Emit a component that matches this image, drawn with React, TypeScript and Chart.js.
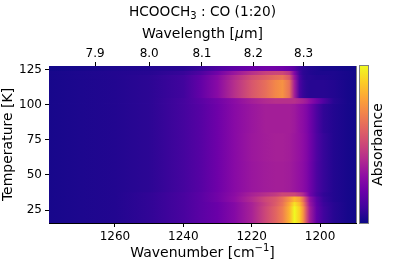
import React, { useEffect, useRef } from "react";
import { Chart, registerables } from "chart.js";

Chart.register(...registerables);

const wavenumbers = [1280, 1270, 1260, 1250, 1240, 1235, 1230, 1225, 1220, 1216, 1213, 1211, 1209, 1207.5, 1206, 1205, 1204, 1203, 1201, 1199, 1196, 1192, 1189];
const temperatureEdges = [15.5, 28, 31, 35, 38, 60, 80, 101, 105, 118, 121.5, 124.3, 127.5];
const absorbance = [
  [.02, .03, .04, .07, .12, .16, .2, .27, .37, .5, .6, .68, .83, 1.0, .9, .76, .54, .36, .18, .1, .05, .02, .01],
  [.02, .03, .04, .07, .12, .16, .2, .27, .37, .48, .57, .65, .8, .95, .85, .7, .5, .33, .17, .09, .05, .02, .01],
  [.02, .03, .04, .07, .12, .16, .22, .3, .4, .5, .56, .63, .74, .84, .78, .64, .46, .31, .16, .08, .04, .02, .01],
  [.02, .03, .04, .07, .12, .16, .22, .29, .37, .42, .46, .5, .5, .5, .45, .4, .32, .22, .12, .07, .04, .02, .01],
  [.02, .03, .04, .06, .11, .15, .21, .28, .33, .35, .36, .36, .35, .33, .31, .29, .26, .22, .13, .08, .04, .02, .01],
  [.02, .03, .04, .06, .11, .15, .21, .28, .335, .355, .365, .365, .355, .335, .315, .295, .265, .225, .135, .08, .04, .02, .01],
  [.02, .03, .04, .06, .11, .15, .21, .28, .33, .36, .36, .36, .36, .34, .31, .29, .26, .22, .13, .07, .04, .02, .01],
  [.02, .03, .04, .06, .11, .16, .22, .29, .36, .4, .42, .42, .42, .42, .39, .37, .34, .3, .22, .14, .05, .02, .01],
  [.02, .03, .04, .06, .1, .18, .28, .42, .55, .63, .71, .74, .64, .36, .13, .08, .06, .05, .05, .05, .04, .02, .01],
  [.02, .03, .04, .06, .1, .17, .27, .4, .52, .58, .63, .65, .56, .32, .12, .07, .05, .05, .04, .04, .03, .02, .01],
  [.02, .03, .04, .05, .08, .13, .22, .33, .42, .48, .5, .5, .44, .26, .1, .06, .05, .04, .03, .03, .03, .02, .01],
  [.01, .02, .03, .04, .05, .08, .13, .17, .2, .22, .22, .21, .19, .15, .09, .06, .05, .04, .03, .02, .02, .01, .01],
];
const yTicks = [25, 50, 75, 100, 125];
const xTicks = [1260, 1240, 1220, 1200];
const wavelengthTicks = [7.9, 8.0, 8.1, 8.2, 8.3];
const plasma = ["#0d0887", "#41049d", "#6a00a8", "#8f0da4", "#b12a90", "#cc4778", "#e16462", "#f2844b", "#fca636", "#fcce25", "#f0f921"];

const FONT = "'DejaVu Sans'";
const INK = "#000";
const GREY = "#808080";

function plasmaColor(v: number) {
  const t = Math.max(0, Math.min(1, v)) * (plasma.length - 1);
  const i = Math.min(plasma.length - 2, Math.floor(t));
  const f = t - i;
  const p = (s: string, k: number) => parseInt(s.slice(k, k + 2), 16);
  const mix = (k: number) => Math.round(p(plasma[i], k) * (1 - f) + p(plasma[i + 1], k) * f);
  return `rgb(${mix(1)},${mix(3)},${mix(5)})`;
}

type Run = { t: string; font?: string; dy?: number };

function drawRuns(ctx: CanvasRenderingContext2D, runs: Run[], cx: number, baseline: number) {
  const fontOf = (r: Run) => r.font ?? `14px ${FONT}`;
  let w = 0;
  runs.forEach((r) => { ctx.font = fontOf(r); w += ctx.measureText(r.t).width; });
  let x = cx - w / 2;
  ctx.textAlign = "left";
  ctx.textBaseline = "alphabetic";
  ctx.fillStyle = INK;
  runs.forEach((r) => {
    ctx.font = fontOf(r);
    ctx.fillText(r.t, x, baseline + (r.dy ?? 0));
    x += ctx.measureText(r.t).width;
  });
}

const SMALL = `10px ${FONT}`;
const TITLE_FONT = `13.7px ${FONT}`;
const titleRuns: Run[] = [{ t: "HCOOCH", font: TITLE_FONT }, { t: "3", font: SMALL, dy: 2.5 }, { t: " : CO (1:20)", font: TITLE_FONT }];
const topLabelRuns: Run[] = [{ t: "Wavelength [" }, { t: "μ", font: `italic 14px ${FONT}` }, { t: "m]" }];
const bottomLabelRuns: Run[] = [{ t: "Wavenumber [cm" }, { t: "−1", font: SMALL, dy: -6 }, { t: "]" }];

const heatmapPlugin = {
  id: "heatmap",
  beforeDatasetsDraw(chart: any) {
    const { ctx, chartArea: a, scales } = chart;
    const x0 = scales.x.getPixelForValue(wavenumbers[0]);
    const x1 = scales.x.getPixelForValue(wavenumbers[wavenumbers.length - 1]);
    ctx.save();
    ctx.beginPath();
    ctx.rect(a.left, a.top, a.right - a.left, a.bottom - a.top);
    ctx.clip();
    absorbance.forEach((row, r) => {
      const yb = scales.y.getPixelForValue(temperatureEdges[r]);
      const yt = scales.y.getPixelForValue(temperatureEdges[r + 1]);
      const g = ctx.createLinearGradient(x0, 0, x1, 0);
      row.forEach((v, c) => {
        const stop = (scales.x.getPixelForValue(wavenumbers[c]) - x0) / (x1 - x0);
        g.addColorStop(Math.max(0, Math.min(1, stop)), plasmaColor(v));
      });
      ctx.fillStyle = g;
      ctx.fillRect(a.left, yt, a.right - a.left, yb - yt + 0.5);
    });
    ctx.filter = "blur(0.7px)";
    ctx.drawImage(
      ctx.canvas,
      a.left, a.top, a.right - a.left, a.bottom - a.top,
      a.left, a.top, a.right - a.left, a.bottom - a.top
    );
    ctx.restore();
  },
  afterDraw(chart: any) {
    const { ctx, chartArea: a } = chart;
    ctx.save();
    ctx.strokeStyle = GREY;
    ctx.lineWidth = 1;
    ctx.beginPath();
    ctx.moveTo(a.right + 0.5, a.top);
    ctx.lineTo(a.right + 0.5, a.bottom);
    ctx.stroke();

    const cx0 = a.right + 4, cw = 8;
    const g = ctx.createLinearGradient(0, a.bottom, 0, a.top);
    plasma.forEach((c, i) => g.addColorStop(i / (plasma.length - 1), c));
    ctx.fillStyle = g;
    ctx.fillRect(cx0, a.top, cw, a.bottom - a.top);
    ctx.strokeStyle = GREY;
    ctx.strokeRect(cx0 - 0.5, a.top - 0.5, cw + 1, a.bottom - a.top + 1);

    const mid = (a.left + a.right) / 2;
    drawRuns(ctx, titleRuns, mid, 16);
    drawRuns(ctx, topLabelRuns, mid, 38);
    drawRuns(ctx, bottomLabelRuns, mid, 257);

    ctx.fillStyle = INK;
    ctx.font = `14px ${FONT}`;
    ctx.textAlign = "center";
    ctx.textBaseline = "middle";
    ctx.translate(378, (a.top + a.bottom) / 2);
    ctx.rotate(-Math.PI / 2);
    ctx.fillText("Absorbance", 0, 0);
    ctx.restore();
  },
};

export default function App() {
  const ref = useRef<HTMLCanvasElement>(null);
  useEffect(() => {
    const chart = new Chart(ref.current!, {
      type: "scatter",
      plugins: [heatmapPlugin],
      data: {
        datasets: [
          {
            label: "Absorbance",
            pointRadius: 0,
            data: absorbance.flatMap((row, r) =>
              row.map((v, c) => ({ x: wavenumbers[c], y: (temperatureEdges[r] + temperatureEdges[r + 1]) / 2, v }))
            ),
          },
        ],
      },
      options: {
        responsive: false,
        animation: false,
        events: [],
        layout: { padding: { top: 0, left: 0, right: 39, bottom: 0 } },
        plugins: {
          legend: { display: false },
          tooltip: { enabled: false },
        },
        scales: {
          x: {
            type: "linear",
            position: "bottom",
            reverse: true,
            min: 1189.5,
            max: 1279.3,
            afterBuildTicks: (s: any) => { s.ticks = xTicks.map((value) => ({ value })); },
            afterFit: (s: any) => { s.height = 40; },
            grid: { drawOnChartArea: false, color: INK, tickLength: 4 },
            border: { color: INK },
            ticks: { color: INK, font: { family: FONT, size: 12 }, padding: 3, maxRotation: 0, autoSkip: false, callback: (v: any) => String(v) },
          },
          xTop: {
            type: "linear",
            position: "top",
            axis: "x",
            reverse: true,
            min: 1189.5,
            max: 1279.3,
            afterBuildTicks: (s: any) => { s.ticks = wavelengthTicks.map((l) => ({ value: 1e4 / l })); },
            afterFit: (s: any) => { s.height = 66; },
            grid: { drawOnChartArea: false, color: INK, tickLength: 4 },
            border: { color: GREY },
            ticks: { color: INK, font: { family: FONT, size: 12 }, padding: 1, maxRotation: 0, autoSkip: false, callback: (v: any) => (1e4 / v).toFixed(1) },
          },
          y: {
            type: "linear",
            min: 15.8,
            max: 127.5,
            afterBuildTicks: (s: any) => { s.ticks = yTicks.map((value) => ({ value })); },
            afterFit: (s: any) => { s.width = 49; },
            grid: { drawOnChartArea: false, color: INK, tickLength: 4 },
            border: { color: INK },
            ticks: { color: INK, font: { family: FONT, size: 12 }, padding: 3, autoSkip: false, callback: (v: any) => String(v) },
            title: { display: true, text: "Temperature [K]", color: INK, font: { family: FONT, size: 14 }, padding: 0 },
          },
        },
      } as any,
    });
    return () => chart.destroy();
  }, []);
  return (
    <canvas
      ref={ref}
      width={395}
      height={263}
      style={{ position: "fixed", left: 0, top: 0, display: "block" }}
    />
  );
}
